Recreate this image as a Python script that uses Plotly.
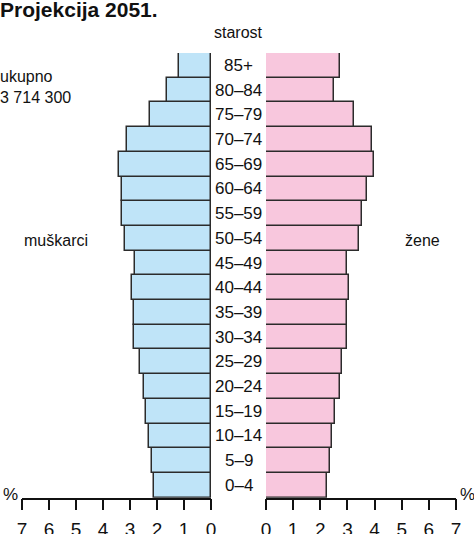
import plotly.graph_objects as go

# age groups from youngest to oldest
ages = ["0–4", "5–9", "10–14", "15–19", "20–24", "25–29", "30–34", "35–39",
        "40–44", "45–49", "50–54", "55–59", "60–64", "65–69", "70–74",
        "75–79", "80–84", "85+"]

# share of total population, %
men = [2.10, 2.20, 2.31, 2.42, 2.48, 2.64, 2.84, 2.84, 2.94, 2.81,
       3.17, 3.30, 3.28, 3.40, 3.11, 2.27, 1.63, 1.19]
women = [2.25, 2.36, 2.44, 2.54, 2.71, 2.80, 2.97, 2.97, 3.07, 2.98,
         3.43, 3.55, 3.71, 3.99, 3.89, 3.24, 2.52, 2.73]

ticks = [0, 1, 2, 3, 4, 5, 6, 7]

FONT = "Liberation Sans, Arial"
W, H = 474, 534

fig = go.Figure()
fig.add_trace(go.Bar(y=ages, x=men, orientation="h", xaxis="x", yaxis="y",
                     marker=dict(color="#bfe4f8", line=dict(color="#2b2b2b", width=1.5)),
                     showlegend=False))
fig.add_trace(go.Bar(y=ages, x=women, orientation="h", xaxis="x2", yaxis="y",
                     marker=dict(color="#f8c7dd", line=dict(color="#2b2b2b", width=1.5)),
                     showlegend=False))

axis_style = dict(showline=True, linecolor="#111", linewidth=1.5, ticks="outside",
                  ticklen=11, tickwidth=1.5, tickcolor="#111", showgrid=False,
                  zeroline=False, tickvals=ticks, anchor="y", automargin=False,
                  ticklabelstandoff=3,
                  tickfont=dict(size=19, color="#111", family=FONT))

fig.update_layout(
    template="none",
    width=W, height=H,
    margin=dict(l=0, r=0, t=0, b=0, pad=0),
    paper_bgcolor="white", plot_bgcolor="white",
    bargap=0,
    font=dict(family=FONT, color="#111"),
    xaxis=dict(range=[7, 0], domain=[22 / W, 211 / W], **axis_style),
    xaxis2=dict(range=[0, 7], domain=[266 / W, 456 / W], **axis_style),
    yaxis=dict(categoryorder="array", categoryarray=ages, range=[-0.5, 17.5],
               domain=[1 - 497.7 / H, 1 - 53 / H], visible=False, automargin=False),
)

# age labels between the two halves
for a in ages:
    fig.add_annotation(x=239 / W, xref="paper", y=a, yref="y", text=a,
                       showarrow=False, font=dict(size=17), xanchor="center")

texts = [
    ("<b>Projekcija 2051.</b>", -2, 9, "left", 21),
    ("starost", 239, 32, "center", 16),
    ("ukupno", -2, 76, "left", 16),
    ("3 714 300", -2, 97, "left", 16),
    ("muškarci", 56, 240, "center", 16),
    ("žene", 422, 240, "center", 16),
    ("%", 10, 494, "center", 17),
    ("%", 467, 494, "center", 17),
]
for t, x, y, anchor, size in texts:
    fig.add_annotation(x=x / W, y=1 - y / H, xref="paper", yref="paper", text=t,
                       showarrow=False, xanchor=anchor, yanchor="middle",
                       font=dict(size=size))

# page has a default 8px body margin; remove it so the figure fills the window
fig.write_html("out.html", config={"displayModeBar": False},
               post_script="document.body.style.margin='0';")
